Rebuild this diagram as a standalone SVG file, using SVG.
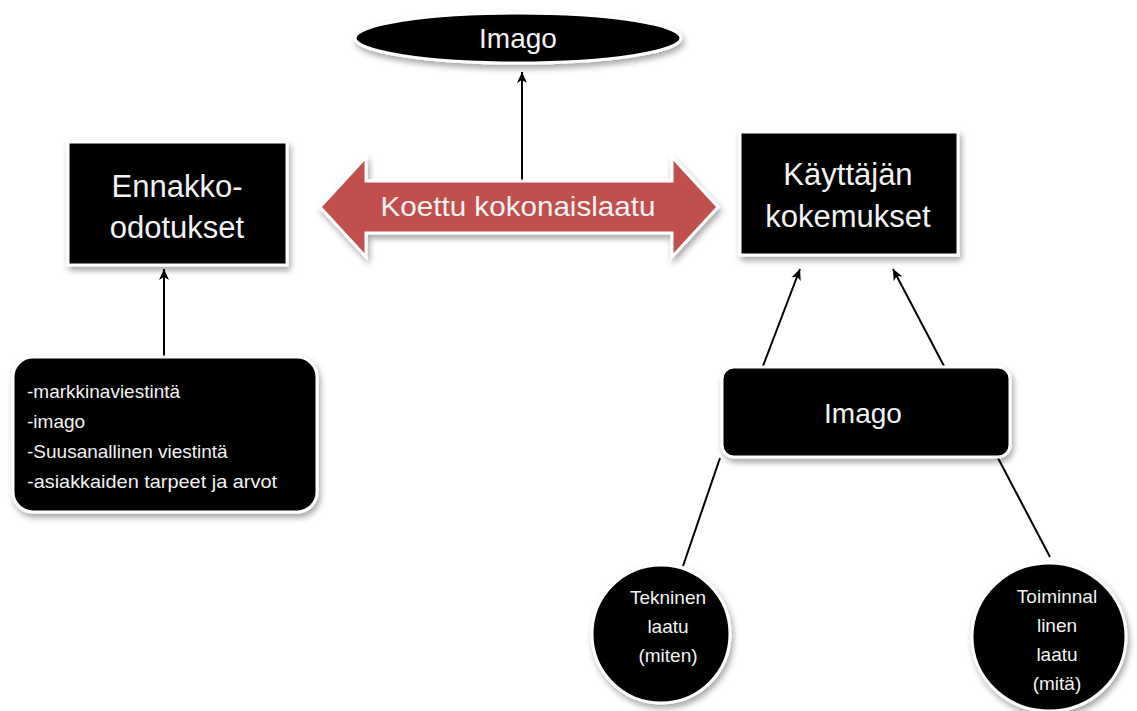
<svg xmlns="http://www.w3.org/2000/svg" width="1137" height="711" viewBox="0 0 1137 711">
<defs>
<filter id="sh" x="-20%" y="-20%" width="140%" height="150%">
<feDropShadow dx="2" dy="4" stdDeviation="3" flood-color="#000" flood-opacity="0.35"/>
</filter>
<marker id="ah2" viewBox="0 0 12 12" refX="11" refY="6" markerWidth="12" markerHeight="12" orient="auto" markerUnits="userSpaceOnUse">
<path d="M0,1 L11,6 L0,11 L3,6 z" fill="#000"/>
</marker>
</defs>
<style>
.box{fill:#000;stroke:#fff;stroke-width:3;filter:url(#sh)}
.t{font-family:"Liberation Sans",Arial,sans-serif;fill:#f2f2f2;text-anchor:middle}
.tl{font-family:"Liberation Sans",Arial,sans-serif;fill:#f2f2f2}
.c{stroke:#000;stroke-width:2;fill:none}
</style>
<rect width="1137" height="711" fill="#fff"/>
<g id="connectors">
<line class="c" x1="522" y1="181" x2="522" y2="72" marker-end="url(#ah2)"/>
<line class="c" x1="164" y1="356" x2="164" y2="269" marker-end="url(#ah2)"/>
<line class="c" x1="763" y1="366" x2="800" y2="269" marker-end="url(#ah2)"/>
<line class="c" x1="944" y1="366" x2="893" y2="269" marker-end="url(#ah2)"/>
<line class="c" x1="720" y1="458" x2="683" y2="566"/>
<line class="c" x1="998" y1="458" x2="1050" y2="557"/>
</g>
<g id="imago-top">
<ellipse class="box" cx="518" cy="38" rx="163" ry="25"/>
<text class="t" x="518" y="48" font-size="28">Imago</text>
</g>
<g id="ennakko">
<rect class="box" x="68" y="142" width="219" height="123"/>
<text class="t" x="177" y="197" font-size="31">Ennakko-</text>
<text class="t" x="177" y="238" font-size="31">odotukset</text>
</g>
<g id="koettu">
<path d="M320,207 L366,157 L366,181 L672,181 L672,157 L718,207 L672,257 L672,233 L366,233 L366,257 Z" fill="#c0504d" stroke="#fff" stroke-width="3" filter="url(#sh)"/>
<text class="t" x="518" y="216" font-size="28" textLength="275" lengthAdjust="spacingAndGlyphs">Koettu kokonaislaatu</text>
</g>
<g id="kayttajan">
<rect class="box" x="740" y="132" width="218" height="123"/>
<text class="t" x="848" y="185" font-size="31">Käyttäjän</text>
<text class="t" x="848" y="227" font-size="31">kokemukset</text>
</g>
<g id="bullets">
<rect class="box" x="13" y="357" width="304" height="155" rx="20" ry="20"/>
<text class="tl" x="27" y="398" font-size="19">-markkinaviestintä</text>
<text class="tl" x="27" y="428" font-size="19">-imago</text>
<text class="tl" x="27" y="458" font-size="19">-Suusanallinen viestintä</text>
<text class="tl" x="27" y="488" font-size="19" textLength="250" lengthAdjust="spacingAndGlyphs">-asiakkaiden tarpeet ja arvot</text>
</g>
<g id="imago-right">
<rect class="box" x="722" y="367" width="288" height="90" rx="12" ry="12"/>
<text class="t" x="863" y="423" font-size="28">Imago</text>
</g>
<g id="tekninen">
<circle class="box" cx="661" cy="634" r="69"/>
<text class="t" x="668" y="604" font-size="19">Tekninen</text>
<text class="t" x="668" y="633" font-size="19">laatu</text>
<text class="t" x="668" y="662" font-size="19">(miten)</text>
</g>
<g id="toiminnallinen">
<ellipse class="box" cx="1049" cy="637" rx="77" ry="74"/>
<text class="t" x="1057" y="603" font-size="19">Toiminnal</text>
<text class="t" x="1057" y="632" font-size="19">linen</text>
<text class="t" x="1057" y="661" font-size="19">laatu</text>
<text class="t" x="1057" y="690" font-size="19">(mitä)</text>
</g>
</svg>
